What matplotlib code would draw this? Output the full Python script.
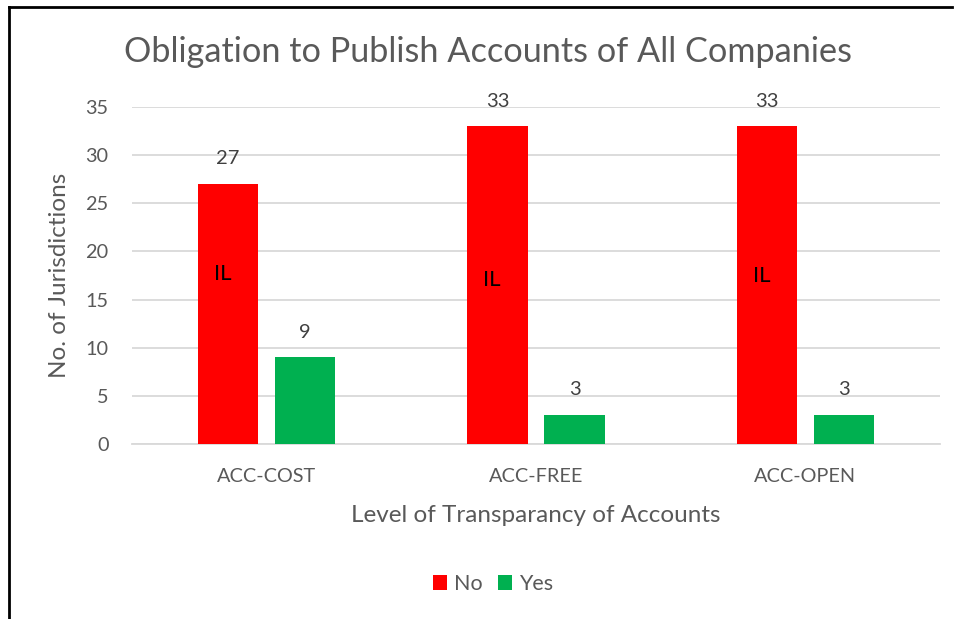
import numpy as np
import matplotlib
matplotlib.use('Agg')
import matplotlib.pyplot as plt
from matplotlib.lines import Line2D

plt.rcParams['font.family'] = ['Lato', 'DejaVu Sans']

categories = ['ACC-COST', 'ACC-FREE', 'ACC-OPEN']
no_values = [27, 33, 33]
yes_values = [9, 3, 3]
il_positions = [17.7, 17.0, 17.5]
y_ticks = [0, 5, 10, 15, 20, 25, 30, 35]

RED = '#ff0000'
GREEN = '#00b050'
TEXT = '#595959'
LABEL = '#404040'
GRID = '#d9d9d9'

fig = plt.figure(figsize=(9.58, 6.19), dpi=100)
ax = fig.add_axes([132 / 958, 1 - 444 / 619, 808 / 958, 337 / 619])

x = np.arange(len(categories))
width = 0.223
offset = 0.143
bars_no = ax.bar(x - offset, no_values, width, color=RED, label='No', zorder=3)
bars_yes = ax.bar(x + offset, yes_values, width, color=GREEN, label='Yes', zorder=3)

for bars in (bars_no, bars_yes):
    for b in bars:
        ax.annotate(f'{b.get_height():.0f}', (b.get_x() + b.get_width() / 2, b.get_height()),
                    xytext=(0, 12), textcoords='offset points', ha='center', va='bottom',
                    fontsize=14.5, color=LABEL)

for xi, yi in zip(x, il_positions):
    ax.text(xi - offset - 0.02, yi, 'IL', ha='center', va='center', fontsize=16, color='black', zorder=4)

ax.set_xlim(-0.5, len(categories) - 0.5)
ax.set_ylim(0, 35)
ax.set_yticks(y_ticks)
ax.set_xticks(x)
ax.set_xticklabels(categories)
ax.tick_params(length=0, labelsize=14.3, labelcolor=TEXT)
ax.tick_params(axis='x', pad=17)
ax.tick_params(axis='y', pad=17)
ax.yaxis.grid(True, color=GRID, linewidth=1.3, zorder=0)
for s in ['top', 'right', 'left']:
    ax.spines[s].set_visible(False)
ax.spines['bottom'].set_color(GRID)
ax.spines['bottom'].set_linewidth(1.3)

ax.set_ylabel('No. of Jurisdictions', fontsize=17.5, color=TEXT, va='center')
ax.yaxis.set_label_coords((60 - 132) / 808, 0.5)
ax.set_xlabel('Level of Transparancy of Accounts', fontsize=17.5, color=TEXT, va='center')
ax.xaxis.set_label_coords((536 - 132) / 808, (444 - 515) / 337)
fig.text(488 / 958, 1 - 52 / 619, 'Obligation to Publish Accounts of All Companies',
         ha='center', va='center', fontsize=24.7, color=TEXT)

ax.legend(loc='center', bbox_to_anchor=(493 / 958, 1 - 584 / 619), bbox_transform=fig.transFigure,
          ncol=2, frameon=False, fontsize=15.5, labelcolor=TEXT, handlelength=0.65, handleheight=0.65,
          handletextpad=0.3, columnspacing=0.75)

# partial frame of the cropped screenshot
fig.add_artist(Line2D([9 / 958, 9 / 958], [0, 1 - 7 / 619], transform=fig.transFigure, color='black', lw=2))
fig.add_artist(Line2D([9 / 958, 952 / 958], [1 - 7 / 619, 1 - 7 / 619], transform=fig.transFigure, color='black', lw=2))

fig.savefig('out.png', dpi=100, facecolor='white')
